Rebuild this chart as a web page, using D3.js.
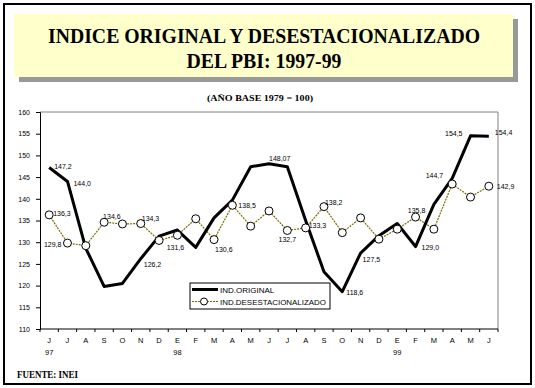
<!DOCTYPE html>
<html>
<head>
<meta charset="utf-8">
<script src="https://cdn.jsdelivr.net/npm/d3@7"></script>
<style>
  body { margin: 0; background: #fff; }
  text { font-family: "Liberation Sans", Arial, sans-serif; }
  .serif { font-family: "Liberation Serif", "Times New Roman", serif; font-weight: bold; }
</style>
</head>
<body>
<svg id="chart"></svg>
<script>
// Months Jun-97 .. Jun-99
const months = ["J","J","A","S","O","N","D","E","F","M","A","M","J","J","A","S","O","N","D","E","F","M","A","M","J"];
const years = [{ i: 0, label: "97" }, { i: 7, label: "98" }, { i: 19, label: "99" }];

// Indice original
const original = [147.2, 144.0, 128.6, 119.8, 120.5, 126.2, 131.4, 132.8, 128.8, 135.6, 139.7, 147.4,
                  148.07, 147.4, 135.0, 123.2, 118.6, 127.5, 131.5, 134.3, 129.0, 138.7, 144.7, 154.5, 154.4];
// Indice desestacionalizado
const deseas = [136.3, 129.8, 129.2, 134.6, 134.2, 134.3, 130.4, 131.6, 135.4, 130.6, 138.5, 133.7,
                137.2, 132.7, 133.3, 138.2, 132.2, 135.6, 130.7, 133.0, 135.8, 133.0, 143.4, 140.4, 142.9];

// Which points carry a value label, and where it sits
const origLabels = [
  { i: 0, dx: 5, dy: 1, anchor: "start" },
  { i: 1, dx: 6, dy: 5, anchor: "start" },
  { i: 5, dx: 3, dy: 8, anchor: "start" },
  { i: 12, dx: 0, dy: -3, anchor: "start" },
  { i: 16, dx: 4, dy: 3, anchor: "start" },
  { i: 17, dx: 2, dy: 9, anchor: "start" },
  { i: 20, dx: 6, dy: 3, anchor: "start" },
  { i: 22, dx: -9, dy: 0, anchor: "end" },
  { i: 23, dx: -8, dy: 0, anchor: "end" },
  { i: 24, dx: 6, dy: -1, anchor: "start" }
];
const deseasLabels = [
  { i: 0, dx: 4, dy: 1, anchor: "start" },
  { i: 1, dx: -6, dy: 4, anchor: "end" },
  { i: 3, dx: -1, dy: -3, anchor: "start" },
  { i: 5, dx: 1, dy: -3, anchor: "start" },
  { i: 7, dx: -2, dy: 15, anchor: "middle" },
  { i: 9, dx: 1, dy: 12, anchor: "start" },
  { i: 10, dx: 6, dy: 3, anchor: "start" },
  { i: 13, dx: 0, dy: 12, anchor: "middle" },
  { i: 14, dx: 3, dy: 0, anchor: "start" },
  { i: 15, dx: 1, dy: -2, anchor: "start" },
  { i: 20, dx: 1, dy: -4, anchor: "middle" },
  { i: 24, dx: 8, dy: 3, anchor: "start" }
];
const yTicks = d3.range(110, 161, 5);

const W = 535, H = 388;
const svg = d3.select("#chart").attr("width", W).attr("height", H);

// Outer frame
svg.append("rect")
    .attr("x", 4).attr("y", 4).attr("width", 527).attr("height", 380)
    .attr("fill", "none").attr("stroke", "#000").attr("stroke-width", 2);

// Title box with shadow
svg.append("rect").attr("x", 19).attr("y", 19).attr("width", 499).attr("height", 63).attr("fill", "#999");
svg.append("rect").attr("x", 14).attr("y", 14).attr("width", 499).attr("height", 63).attr("fill", "#ffffcc");
svg.append("text").attr("class", "serif")
    .attr("x", 264).attr("y", 43).attr("text-anchor", "middle")
    .attr("font-size", 21).attr("textLength", 432).attr("lengthAdjust", "spacingAndGlyphs")
    .text("INDICE ORIGINAL Y DESESTACIONALIZADO");
svg.append("text").attr("class", "serif")
    .attr("x", 264).attr("y", 68).attr("text-anchor", "middle")
    .attr("font-size", 21).attr("textLength", 155).attr("lengthAdjust", "spacingAndGlyphs")
    .text("DEL PBI: 1997-99");

svg.append("text").attr("class", "serif")
    .attr("x", 260).attr("y", 101).attr("text-anchor", "middle")
    .attr("font-size", 9).attr("textLength", 106).attr("lengthAdjust", "spacingAndGlyphs")
    .text("(AÑO BASE 1979 = 100)");

svg.append("text").attr("class", "serif")
    .attr("x", 17).attr("y", 378)
    .attr("font-size", 10).attr("textLength", 61).attr("lengthAdjust", "spacingAndGlyphs")
    .text("FUENTE: INEI");

// Plot area
const plotLeft = 40, plotRight = 498, plotTop = 112, plotBottom = 329;

const x = d3.scaleBand()
    .domain(d3.range(months.length))
    .range([plotLeft, plotRight])
    .padding(0);
const cx = i => x(i) + x.bandwidth() / 2;

const y = d3.scaleLinear()
    .domain([110, 160])
    .range([plotBottom, plotTop]);

// Grey top and right border of the plot
svg.append("path")
    .attr("d", `M${plotLeft},${y(160)}H${plotRight}V${y(110)}`)
    .attr("fill", "none").attr("stroke", "#808080").attr("stroke-width", 1);

// Y axis
const yAxis = svg.append("g")
    .attr("transform", `translate(${plotLeft},0)`)
    .call(d3.axisLeft(y).tickValues(yTicks).tickSize(4).tickPadding(6).tickFormat(d3.format("d")));
yAxis.select(".domain").attr("stroke", "#000");
yAxis.selectAll("text").attr("font-size", 7).attr("fill", "#000");

// X axis line and boundary ticks
svg.append("line")
    .attr("x1", plotLeft).attr("x2", plotRight).attr("y1", plotBottom).attr("y2", plotBottom)
    .attr("stroke", "#000");
svg.append("g").selectAll("line")
    .data(d3.range(months.length + 1))
    .join("line")
    .attr("x1", i => i < months.length ? x(i) : plotRight)
    .attr("x2", i => i < months.length ? x(i) : plotRight)
    .attr("y1", plotBottom).attr("y2", plotBottom + 3)
    .attr("stroke", "#000");

svg.append("g").selectAll("text")
    .data(months)
    .join("text")
    .attr("x", (d, i) => cx(i))
    .attr("y", 343)
    .attr("text-anchor", "middle")
    .attr("font-size", 7.5)
    .text(d => d);

svg.append("g").selectAll("text")
    .data(years)
    .join("text")
    .attr("x", d => cx(d.i))
    .attr("y", 355)
    .attr("text-anchor", "middle")
    .attr("font-size", 7.5)
    .text(d => d.label);

// Lines
const line = d3.line().x((d, i) => cx(i)).y(d => y(d));

svg.append("path")
    .datum(deseas)
    .attr("d", line)
    .attr("fill", "none")
    .attr("stroke", "#7a6d00")
    .attr("stroke-width", 1.2)
    .attr("stroke-dasharray", "2,1");

svg.append("path")
    .datum(original)
    .attr("d", line)
    .attr("fill", "none")
    .attr("stroke", "#000")
    .attr("stroke-width", 3)
    .attr("stroke-linejoin", "round");

svg.append("g").selectAll("circle")
    .data(deseas)
    .join("circle")
    .attr("cx", (d, i) => cx(i))
    .attr("cy", d => y(d))
    .attr("r", 4)
    .attr("fill", "#fff")
    .attr("stroke", "#000")
    .attr("stroke-width", 1);

// Value labels, comma decimals
const fmt = v => String(v).includes(".") ? String(v).replace(".", ",") : v.toFixed(1).replace(".", ",");

function addLabels(list, values) {
  svg.append("g").selectAll("text")
      .data(list)
      .join("text")
      .attr("x", d => cx(d.i) + d.dx)
      .attr("y", d => y(values[d.i]) + d.dy)
      .attr("text-anchor", d => d.anchor)
      .attr("font-size", 7)
      .text(d => fmt(values[d.i]));
}
addLabels(origLabels, original);
addLabels(deseasLabels, deseas);

// Legend
const lg = svg.append("g");
lg.append("rect")
    .attr("x", 190).attr("y", 283).attr("width", 140).attr("height", 26)
    .attr("fill", "#fff").attr("stroke", "#000").attr("stroke-width", 1);
lg.append("line")
    .attr("x1", 192).attr("x2", 218).attr("y1", 289.5).attr("y2", 289.5)
    .attr("stroke", "#000").attr("stroke-width", 3);
lg.append("text").attr("x", 220).attr("y", 292.5).attr("font-size", 8).text("IND.ORIGINAL");
lg.append("line")
    .attr("x1", 192).attr("x2", 218).attr("y1", 301.5).attr("y2", 301.5)
    .attr("stroke", "#7a6d00").attr("stroke-width", 1.2).attr("stroke-dasharray", "2,1");
lg.append("circle")
    .attr("cx", 204).attr("cy", 301.5).attr("r", 3.5)
    .attr("fill", "#fff").attr("stroke", "#000");
lg.append("text").attr("x", 220).attr("y", 304.5).attr("font-size", 8)
    .attr("textLength", 106).attr("lengthAdjust", "spacingAndGlyphs")
    .text("IND.DESESTACIONALIZADO");
</script>
</body>
</html>
